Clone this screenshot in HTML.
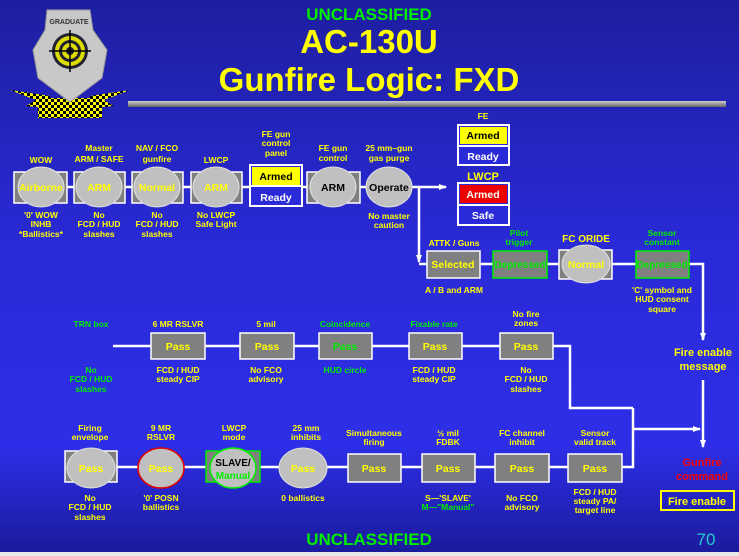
<!DOCTYPE html>
<html><head><meta charset="utf-8"><style>
html,body{margin:0;padding:0;width:739px;height:556px;overflow:hidden}
svg{display:block}
text{font-family:"Liberation Sans",sans-serif;font-weight:bold}
.l{fill:#ffff00;font-size:8.5px;text-anchor:middle}
.g{fill:#00ee00;font-size:8.5px;text-anchor:middle}
.b{font-size:10.5px;text-anchor:middle}
.y{fill:#ffff00}.k{fill:#000}.w{fill:#fff}.gr{fill:#00ee00}
</style></head><body>
<svg width="739" height="556" viewBox="0 0 739 556" xmlns="http://www.w3.org/2000/svg">
<defs>
<linearGradient id="bg" x1="0" y1="0" x2="0" y2="1">
<stop offset="0" stop-color="#1e1ea0"/><stop offset="0.45" stop-color="#2a2ad8"/><stop offset="0.8" stop-color="#2e2ee8"/><stop offset="1" stop-color="#1a1a9a"/>
</linearGradient>
<linearGradient id="bar" x1="0" y1="0" x2="0" y2="1"><stop offset="0" stop-color="#cfcfcf"/><stop offset="1" stop-color="#666"/></linearGradient>
<pattern id="chk" width="6" height="6" patternUnits="userSpaceOnUse"><rect width="6" height="6" fill="#ffff00"/><rect width="3" height="3" fill="#000"/><rect x="3" y="3" width="3" height="3" fill="#000"/></pattern>
<marker id="ar" markerWidth="8" markerHeight="8" refX="7" refY="4" orient="auto" markerUnits="userSpaceOnUse"><path d="M0,1 L8,4 L0,7 Z" fill="#fff"/></marker>
</defs>
<rect width="739" height="556" fill="url(#bg)"/>
<rect y="552" width="739" height="4" fill="#e8e8e8"/>
<!-- logo -->
<path d="M10,90 L50,96 L50,108 L26,106 L36,100 Z" fill="url(#chk)"/>
<path d="M130,90 L90,96 L90,108 L114,106 L104,100 Z" fill="url(#chk)"/>
<rect x="38" y="98" width="64" height="20" fill="url(#chk)"/>
<path d="M47,10 L90,10 L93,30 L107,50 L102,78 L70,102 L38,78 L33,50 L45,30 Z" fill="#c8c8c8" stroke="#999"/>
<text x="69" y="24" style="font-size:7px;fill:#333;text-anchor:middle">GRADUATE</text>
<circle cx="70" cy="51" r="18" fill="#223"/><circle cx="70" cy="51" r="15" fill="#dd0"/><circle cx="70" cy="51" r="11" fill="#223"/><circle cx="70" cy="51" r="8" fill="#dd0"/><circle cx="70" cy="51" r="4" fill="#223"/>
<line x1="70" y1="30" x2="70" y2="72" stroke="#000" stroke-width="1.5"/><line x1="49" y1="51" x2="91" y2="51" stroke="#000" stroke-width="1.5"/>
<!-- title -->
<text x="369" y="20" style="font-size:17px;fill:#00ee00;text-anchor:middle">UNCLASSIFIED</text>
<text x="369" y="53" style="font-size:33px;fill:#ffff00;text-anchor:middle">AC-130U</text>
<text x="369" y="91" style="font-size:33px;fill:#ffff00;text-anchor:middle">Gunfire Logic: FXD</text>
<rect x="128" y="101" width="598" height="6" fill="url(#bar)"/>

<!-- row 1 -->
<g stroke="#fff" stroke-width="2.5" fill="none">
<line x1="14" y1="187" x2="446" y2="187" marker-end="url(#ar)"/>
<polyline points="419,187 419,262" marker-end="url(#ar)"/>
</g>
<g stroke="#fff" stroke-width="1.5">
<rect x="14" y="172" width="53" height="31" fill="#808080"/>
<rect x="74" y="172" width="51" height="31" fill="#808080"/>
<rect x="132" y="172" width="51" height="31" fill="#808080"/>
<rect x="191" y="172" width="51" height="31" fill="#808080"/>
<rect x="307" y="172" width="53" height="31" fill="#808080"/>
</g>
<g fill="#c0c0c0" stroke="#e0e0e0" stroke-width="1">
<ellipse cx="41" cy="187" rx="23" ry="20"/><ellipse cx="99" cy="187" rx="23" ry="20"/><ellipse cx="157" cy="187" rx="23" ry="20"/><ellipse cx="216" cy="187" rx="23" ry="20"/><ellipse cx="333" cy="187" rx="23" ry="20"/><ellipse cx="389" cy="187" rx="23" ry="20"/>
</g>
<text x="41" y="191" class="b y">Airborne</text>
<text x="99" y="191" class="b y">ARM</text>
<text x="157" y="191" class="b y">Normal</text>
<text x="216" y="191" class="b y">ARM</text>
<text x="333" y="191" class="b k">ARM</text>
<text x="389" y="191" class="b k">Operate</text>
<rect x="250" y="165" width="52" height="41" fill="#2a2ad8" stroke="#fff" stroke-width="2"/>
<rect x="252" y="167" width="48" height="18" fill="#ffff00"/>
<line x1="250" y1="186" x2="302" y2="186" stroke="#fff" stroke-width="2"/>
<text x="276" y="180" class="b k">Armed</text><text x="276" y="201" class="b w">Ready</text>
<text x="41" y="163" class="l">WOW</text>
<text x="99" y="151" class="l">Master</text><text x="99" y="162" class="l">ARM / SAFE</text>
<text x="157" y="151" class="l">NAV / FCO</text><text x="157" y="162" class="l">gunfire</text>
<text x="216" y="163" class="l">LWCP</text>
<text x="276" y="137" class="l">FE gun</text><text x="276" y="146" class="l">control</text><text x="276" y="156" class="l">panel</text>
<text x="333" y="151" class="l">FE gun</text><text x="333" y="161" class="l">control</text>
<text x="389" y="151" class="l">25 mm–gun</text><text x="389" y="161" class="l">gas purge</text>
<text x="41" y="218" class="l">'0' WOW</text><text x="41" y="227" class="l">INHB</text><text x="41" y="237" class="l">*Ballistics*</text>
<text x="99" y="218" class="l">No</text><text x="99" y="227" class="l">FCD / HUD</text><text x="99" y="237" class="l">slashes</text>
<text x="157" y="218" class="l">No</text><text x="157" y="227" class="l">FCD / HUD</text><text x="157" y="237" class="l">slashes</text>
<text x="216" y="218" class="l">No LWCP</text><text x="216" y="227" class="l">Safe Light</text>
<text x="389" y="219" class="l">No master</text><text x="389" y="228" class="l">caution</text>

<!-- FE/LWCP blocks -->
<text x="483" y="119" class="l">FE</text>
<rect x="458" y="125" width="51" height="40" fill="#2a2ad8" stroke="#fff" stroke-width="2"/>
<rect x="460" y="127" width="47" height="17" fill="#ffff00"/><line x1="458" y1="146" x2="509" y2="146" stroke="#fff" stroke-width="2"/>
<text x="483" y="139" class="b k">Armed</text><text x="483" y="160" class="b w">Ready</text>
<text x="483" y="180" style="font-size:11px;fill:#ffff00;text-anchor:middle">LWCP</text>
<rect x="458" y="183" width="51" height="42" fill="#2a2ad8" stroke="#fff" stroke-width="2"/>
<rect x="460" y="185" width="47" height="18" fill="#ee0000"/><line x1="458" y1="205" x2="509" y2="205" stroke="#fff" stroke-width="2"/>
<text x="483" y="198" class="b w">Armed</text><text x="483" y="219" class="b w">Safe</text>

<!-- row 2 -->
<g stroke="#fff" stroke-width="2.5" fill="none">
<polyline points="419,264 703,264 703,340" marker-end="url(#ar)"/>
</g>
<rect x="427" y="251" width="53" height="27" fill="#808080" stroke="#fff" stroke-width="1.5"/>
<rect x="493" y="251" width="54" height="27" fill="#808080" stroke="#00ee00" stroke-width="1.5"/>
<rect x="559" y="250" width="53" height="29" fill="#808080" stroke="#fff" stroke-width="1.5"/>
<ellipse cx="586" cy="264" rx="24" ry="19" fill="#c0c0c0" stroke="#e0e0e0"/>
<rect x="636" y="251" width="53" height="27" fill="#808080" stroke="#00ee00" stroke-width="1.5"/>
<text x="453" y="268" class="b y">Selected</text>
<text x="520" y="268" class="b gr" style="font-size:10px">Depressed</text>
<text x="586" y="268" class="b y">Normal</text>
<text x="662" y="268" class="b gr" style="font-size:10px">Depressed</text>
<text x="454" y="246" class="l">ATTK / Guns</text>
<text x="519" y="236" class="g">Pilot</text><text x="519" y="245" class="g">trigger</text>
<text x="586" y="242" style="font-size:10px;fill:#ffff00;text-anchor:middle">FC ORIDE</text>
<text x="662" y="236" class="g">Sensor</text><text x="662" y="245" class="g">constant</text>
<text x="454" y="293" class="l">A / B and ARM</text>
<text x="662" y="293" class="l">'C' symbol and</text><text x="662" y="302" class="l">HUD consent</text><text x="662" y="312" class="l">square</text>

<text x="703" y="356" style="font-size:11px;fill:#ffff00;text-anchor:middle">Fire enable</text>
<text x="703" y="370" style="font-size:11px;fill:#ffff00;text-anchor:middle">message</text>

<!-- row 3 -->
<g stroke="#fff" stroke-width="2.5" fill="none">
<polyline points="113,346 570,346 570,408 633,408"/>
<line x1="703" y1="380" x2="703" y2="447" marker-end="url(#ar)"/>
<polyline points="66,467 633,467 633,408"/>
<line x1="633" y1="429" x2="700" y2="429" marker-end="url(#ar)"/>
</g>
<g fill="#808080" stroke="#fff" stroke-width="1.5">
<rect x="151" y="333" width="54" height="26"/><rect x="240" y="333" width="54" height="26"/><rect x="319" y="333" width="53" height="26"/><rect x="409" y="333" width="53" height="26"/><rect x="500" y="333" width="53" height="26"/>
</g>
<text x="178" y="350" class="b y">Pass</text><text x="267" y="350" class="b y">Pass</text><text x="345" y="350" class="b gr">Pass</text><text x="435" y="350" class="b y">Pass</text><text x="526" y="350" class="b y">Pass</text>
<text x="91" y="327" class="g">TRN box</text>
<text x="178" y="327" class="l">6 MR RSLVR</text>
<text x="266" y="327" class="l">5 mil</text>
<text x="345" y="327" class="g">Coincidence</text>
<text x="434" y="327" class="g">Fixable rate</text>
<text x="526" y="317" class="l">No fire</text><text x="526" y="326" class="l">zones</text>
<text x="91" y="373" class="g">No</text><text x="91" y="382" class="g">FCD / HUD</text><text x="91" y="392" class="g">slashes</text>
<text x="178" y="373" class="l">FCD / HUD</text><text x="178" y="382" class="l">steady CIP</text>
<text x="266" y="373" class="l">No FCO</text><text x="266" y="382" class="l">advisory</text>
<text x="345" y="373" class="g">HUD circle</text>
<text x="434" y="373" class="l">FCD / HUD</text><text x="434" y="382" class="l">steady CIP</text>
<text x="526" y="373" class="l">No</text><text x="526" y="382" class="l">FCD / HUD</text><text x="526" y="392" class="l">slashes</text>

<!-- row 4 -->
<rect x="65" y="451" width="52" height="31" fill="#808080" stroke="#fff" stroke-width="1.5"/>
<rect x="206" y="451" width="54" height="31" fill="#808080" stroke="#00ee00" stroke-width="1.5"/>
<g fill="#808080" stroke="#fff" stroke-width="1.5">
<rect x="348" y="454" width="53" height="28"/><rect x="422" y="454" width="53" height="28"/><rect x="495" y="454" width="54" height="28"/><rect x="568" y="454" width="54" height="28"/>
</g>
<ellipse cx="91" cy="468" rx="24" ry="20" fill="#c0c0c0" stroke="#e0e0e0"/>
<ellipse cx="161" cy="468" rx="23" ry="20" fill="#c0c0c0" stroke="#e00000" stroke-width="1.5"/>
<ellipse cx="233" cy="468" rx="23" ry="20" fill="#c0c0c0" stroke="#00ee00" stroke-width="1.5"/>
<ellipse cx="303" cy="468" rx="24" ry="20" fill="#c0c0c0" stroke="#e0e0e0"/>
<text x="91" y="472" class="b y">Pass</text><text x="161" y="472" class="b y">Pass</text>
<text x="233" y="466" class="b k" style="font-size:10px">SLAVE/</text><text x="233" y="479" class="b gr" style="font-size:10px">Manual</text>
<text x="303" y="472" class="b y">Pass</text>
<text x="374" y="472" class="b y">Pass</text><text x="448" y="472" class="b y">Pass</text><text x="522" y="472" class="b y">Pass</text><text x="595" y="472" class="b y">Pass</text>
<text x="90" y="431" class="l">Firing</text><text x="90" y="440" class="l">envelope</text>
<text x="161" y="431" class="l">9 MR</text><text x="161" y="440" class="l">RSLVR</text>
<text x="234" y="431" class="l">LWCP</text><text x="234" y="440" class="l">mode</text>
<text x="306" y="431" class="l">25 mm</text><text x="306" y="440" class="l">inhibits</text>
<text x="374" y="436" class="l">Simultaneous</text><text x="374" y="445" class="l">firing</text>
<text x="448" y="436" class="l">½ mil</text><text x="448" y="445" class="l">FDBK</text>
<text x="522" y="436" class="l">FC channel</text><text x="522" y="445" class="l">inhibit</text>
<text x="595" y="436" class="l">Sensor</text><text x="595" y="445" class="l">valid track</text>
<text x="90" y="501" class="l">No</text><text x="90" y="510" class="l">FCD / HUD</text><text x="90" y="520" class="l">slashes</text>
<text x="161" y="501" class="l">'0' POSN</text><text x="161" y="510" class="l">ballistics</text>
<text x="303" y="501" class="l">0 ballistics</text>
<text x="448" y="501" class="l">S—'SLAVE'</text><text x="448" y="510" class="g">M—"Manual"</text>
<text x="522" y="501" class="l">No FCO</text><text x="522" y="510" class="l">advisory</text>
<text x="595" y="495" class="l">FCD / HUD</text><text x="595" y="504" class="l">steady PA/</text><text x="595" y="513" class="l">target line</text>

<text x="702" y="466" style="font-size:11px;fill:#ff0000;text-anchor:middle">Gunfire</text>
<text x="702" y="480" style="font-size:11px;fill:#ff0000;text-anchor:middle">command</text>
<rect x="661" y="491" width="73" height="19" fill="none" stroke="#ffff00" stroke-width="2"/>
<text x="697" y="505" style="font-size:11px;fill:#ffff00;text-anchor:middle">Fire enable</text>

<text x="369" y="545" style="font-size:17px;fill:#00ee00;text-anchor:middle">UNCLASSIFIED</text>
<text x="706" y="545" style="font-size:17px;fill:#22cccc;text-anchor:middle;font-weight:normal">70</text>
</svg>
</body></html>
